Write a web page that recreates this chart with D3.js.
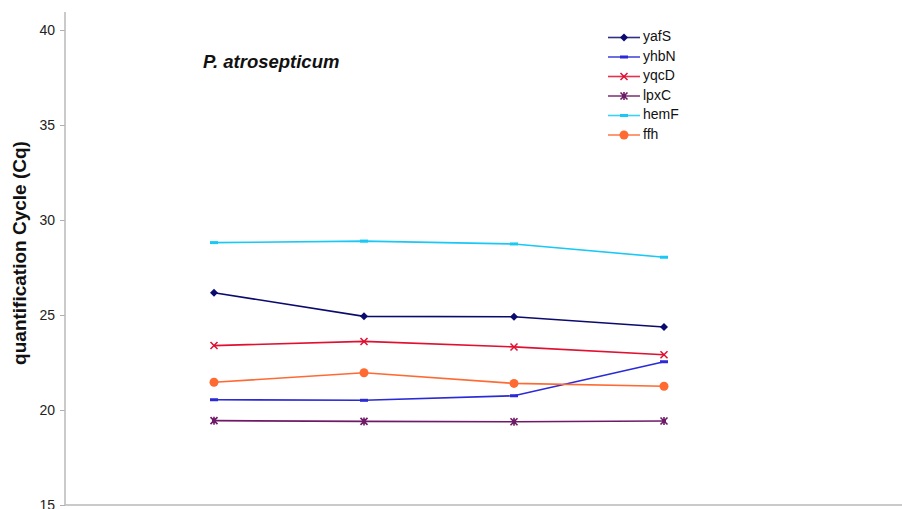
<!DOCTYPE html>
<html><head><meta charset="utf-8">
<script src="https://cdn.jsdelivr.net/npm/d3@7"></script>
<style>body{margin:0;background:#fff}svg{display:block}</style>
</head><body>
<script>
const categories = ["1","2","3","4"];
const seriesNames = ["yafS","yhbN","yqcD","lpxC","hemF","ffh"];
const yafS = [26.17, 24.93, 24.91, 24.37];
const yhbN = [20.54, 20.51, 20.75, 22.54];
const yqcD = [23.39, 23.61, 23.32, 22.91];
const lpxC = [19.44, 19.40, 19.38, 19.42];
const hemF = [28.81, 28.89, 28.74, 28.04];
const ffh  = [21.46, 21.96, 21.40, 21.25];
const yTicks = [15, 20, 25, 30, 35, 40];
const title = "P. atrosepticum";
const yLabel = "quantification Cycle (Cq)";

const seriesData = [yafS, yhbN, yqcD, lpxC, hemF, ffh];
const colors = ["#0b0b6e", "#2a2ad6", "#e01030", "#6e1a66", "#19c8f5", "#ff6a33"];
const markers = ["diamond", "dash", "x", "star", "dash", "circle"];

const W = 902, H = 509;
const svg = d3.select("body").append("svg").attr("width", W).attr("height", H);
const FONT = "Liberation Sans, Arial, sans-serif";

const x0 = 65;
const x = d3.scalePoint().domain(categories).range([214, 664]);
const y = d3.scaleLinear().domain([15, 40]).range([505, 30]);

// y axis
const yAxis = d3.axisLeft(y).tickValues(yTicks).tickSize(5).tickPadding(5);
const ga = svg.append("g").attr("transform", `translate(${x0},0)`).call(yAxis);
ga.select(".domain").remove();
ga.selectAll(".tick line").attr("stroke", "#b0b0b0");
ga.selectAll(".tick text").attr("fill", "#222").style("font-family", FONT).style("font-size", "14px");
svg.append("line").attr("x1", x0).attr("x2", x0).attr("y1", 12).attr("y2", 505).attr("stroke", "#b8b8b8").attr("stroke-width", 1.5);
svg.append("line").attr("x1", x0).attr("x2", W).attr("y1", 505).attr("y2", 505).attr("stroke", "#b8b8b8").attr("stroke-width", 1.5);

svg.append("text").attr("transform", "translate(21,253) rotate(-90)")
  .attr("text-anchor", "middle").attr("dominant-baseline", "middle")
  .style("font-family", FONT).style("font-weight", "bold").style("font-size", "19px")
  .attr("fill", "#111").text(yLabel);

svg.append("text").attr("x", 203).attr("y", 68)
  .style("font-family", FONT).style("font-weight", "bold").style("font-style", "italic").style("font-size", "18.5px")
  .attr("fill", "#111").text(title);

function drawMarker(g, type, cx, cy, color) {
  if (type === "diamond") {
    g.append("path").attr("d", `M${cx},${cy-4}L${cx+4},${cy}L${cx},${cy+4}L${cx-4},${cy}Z`).attr("fill", color);
  } else if (type === "dash") {
    g.append("rect").attr("x", cx - 4).attr("y", cy - 1.5).attr("width", 8).attr("height", 3).attr("fill", color);
  } else if (type === "x") {
    g.append("path").attr("d", `M${cx-3.5},${cy-3.5}L${cx+3.5},${cy+3.5}M${cx-3.5},${cy+3.5}L${cx+3.5},${cy-3.5}`).attr("stroke", color).attr("stroke-width", 1.5).attr("fill", "none");
  } else if (type === "star") {
    g.append("path").attr("d", `M${cx-3.5},${cy-3.5}L${cx+3.5},${cy+3.5}M${cx-3.5},${cy+3.5}L${cx+3.5},${cy-3.5}M${cx},${cy-4}L${cx},${cy+4}`).attr("stroke", color).attr("stroke-width", 1.6).attr("fill", "none");
    g.append("rect").attr("x", cx-2).attr("y", cy-2).attr("width", 4).attr("height", 4).attr("fill", color);
  } else if (type === "circle") {
    g.append("circle").attr("cx", cx).attr("cy", cy).attr("r", 4.5).attr("fill", color);
  }
}

const line = d3.line().x((d, i) => x(categories[i])).y(d => y(d));
seriesData.forEach((vals, si) => {
  const g = svg.append("g");
  g.append("path").datum(vals).attr("d", line).attr("fill", "none").attr("stroke", colors[si]).attr("stroke-width", 1.6);
  vals.forEach((v, i) => drawMarker(g, markers[si], x(categories[i]), y(v), colors[si]));
});

// legend
const legY0 = 37.5, legDy = 19.5;
seriesNames.forEach((n, si) => {
  const yy = legY0 + si * legDy;
  const g = svg.append("g");
  g.append("line").attr("x1", 608).attr("x2", 640).attr("y1", yy).attr("y2", yy).attr("stroke", colors[si]).attr("stroke-width", 1.6).attr("opacity", 0.85);
  drawMarker(g, markers[si], 624, yy, colors[si]);
  g.append("text").attr("x", 643).attr("y", yy).attr("dominant-baseline", "middle")
    .style("font-family", FONT).style("font-size", "14px").attr("fill", "#111").text(n);
});
</script>
</body></html>
